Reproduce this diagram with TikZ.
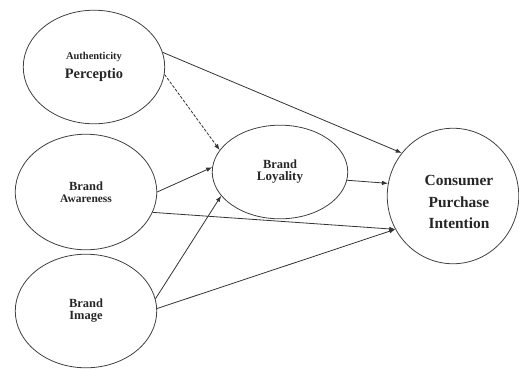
\documentclass[tikz,border=0pt]{standalone}
\usepackage{fontspec}
\setmainfont{Liberation Serif}
\usetikzlibrary{shapes.geometric,arrows.meta}
\begin{document}
\begin{tikzpicture}[x=1bp,y=-1bp,
        construct/.style={ellipse, draw=black!75, line width=0.8bp, inner sep=0pt, align=center, font=\bfseries, text=black!85},
        link/.style={-{Latex[length=6bp,width=4.5bp]}, draw=black!80, line width=0.8bp}]
        \useasboundingbox (0,0) rectangle (519,368);

        % constructs
        \node[construct, minimum width=142, minimum height=114] (auth) at (94,67)
            {{\fontsize{10.5}{12}\selectfont Authenticity}\\[6bp]{\fontsize{14.5}{16}\selectfont Perceptio}};
        \node[construct, minimum width=142, minimum height=116] (aware) at (86,192)
            {{\fontsize{12.5}{19}\selectfont Brand}\\{\fontsize{11.5}{19}\selectfont Awareness}};
        \node[construct, minimum width=142, minimum height=114] (image) at (86,311)
            {{\fontsize{12.5}{18}\selectfont Brand}\\{\fontsize{12.5}{18}\selectfont Image}};
        \node[construct, minimum width=136, minimum height=94] (loyal) at (280,172)
            {{\fontsize{12.5}{18}\selectfont Brand}\\{\fontsize{13}{18}\selectfont Loyality}};
        \node[construct, minimum width=132, minimum height=136] (intent) at (453,196) {};
        \node[align=center, font=\bfseries\fontsize{15.5}{22}\selectfont, text=black!85, inner sep=0pt] (intenttext) at (459,202)
            {Consumer\\Purchase\\Intention};

        % paths to loyalty
        \draw[link, dash pattern=on 3bp off 1.5bp] (auth.-6) -- (loyal.160);
        \draw[link] (aware.0) -- (loyal.176);
        \draw[link] (image.10) -- (loyal.202);

        % paths to intention
        \draw[link] (auth.12) -- (intent.140);
        \draw[link] (loyal.-7) -- (intent.169);
        \draw[link] (aware.-17) -- (intent.210);
        \draw[link] (image.2) -- (intent.210);
    \end{tikzpicture}
\end{document}
